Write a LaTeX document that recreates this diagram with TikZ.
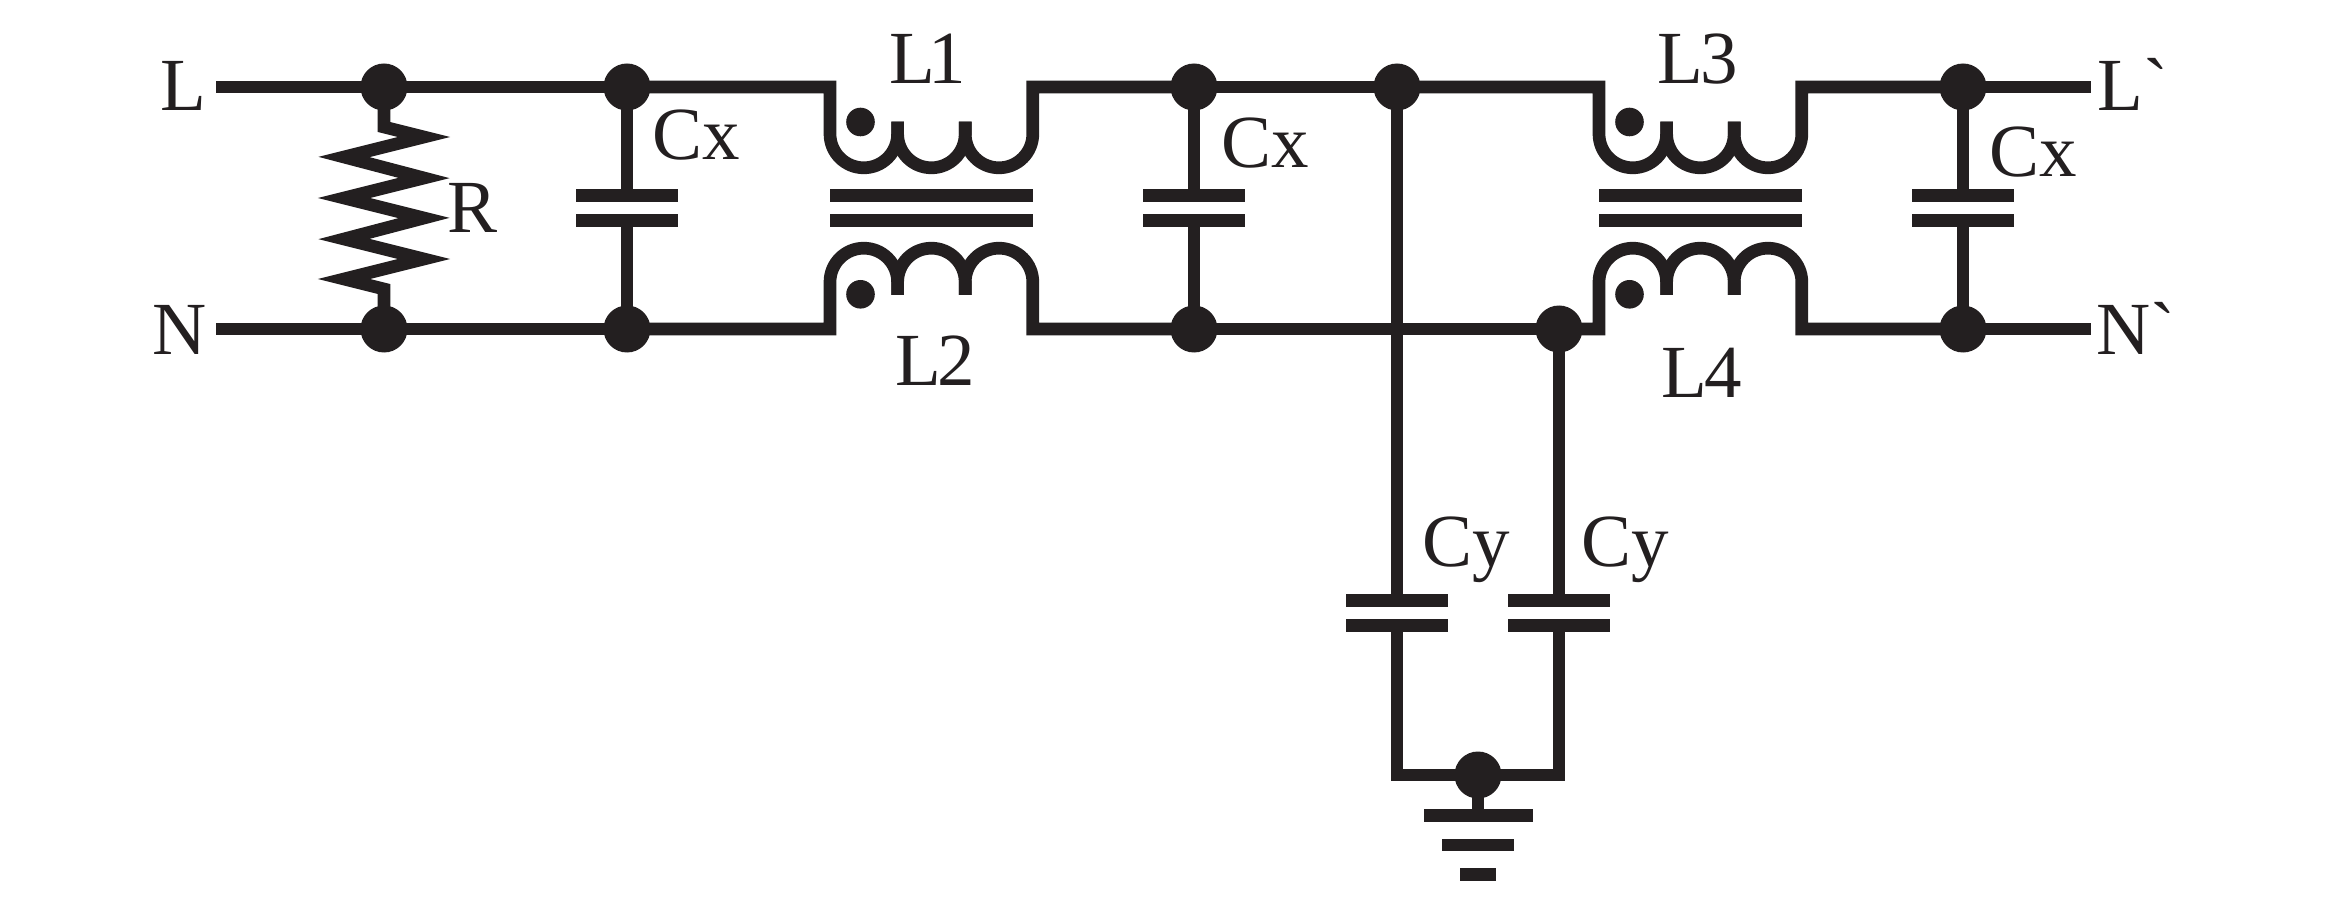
\documentclass[tikz,border=0pt]{standalone}
\usepackage{fontspec}
\newfontfamily\labelfont{Liberation Serif}
\definecolor{inkblack}{HTML}{231F20}
\tikzset{
  wire/.style={draw=inkblack, line width=12.7pt},
  junction/.style={circle, fill=inkblack, inner sep=0pt, outer sep=0pt, minimum size=47pt},
  plate/.style={rectangle, fill=inkblack, inner sep=0pt, outer sep=0pt, minimum width=102pt, minimum height=12.7pt},
  coredot/.style={circle, fill=inkblack, inner sep=0pt, outer sep=0pt, minimum size=28.6pt},
  tag/.style={text=inkblack, inner sep=0pt, anchor=base, font=\labelfont\fontsize{75}{80}\selectfont}
}
\begin{document}
\begin{tikzpicture}[x=1pt, y=-1pt]
  \useasboundingbox (0, 0) rectangle (2332, 917);
  % input and output ends
  \coordinate (Lin) at (216, 87);
  \coordinate (Nin) at (216, 329);
  \coordinate (Lout) at (2091, 87);
  \coordinate (Nout) at (2091, 329);
  % Cx branches
  \foreach \cn/\cx in {A/627, B/1194, C/1963} {
    \node [junction] (ct\cn) at (\cx, 87) {};
    \node [junction] (cb\cn) at (\cx, 329) {};
    \node [plate] (cu\cn) at (\cx, 195.5) {};
    \node [plate] (cl\cn) at (\cx, 220.5) {};
    \draw [wire] (ct\cn.center) -- (cu\cn.center);
    \draw [wire] (cl\cn.center) -- (cb\cn.center);
  }
  % rails
  \node [junction] (rt) at (384, 87) {};
  \node [junction] (rb) at (384, 329) {};
  \node [junction] (jT) at (1397, 87) {};
  \node [junction] (jB) at (1559, 329) {};
  \draw [wire] (Lin) -- (rt.center) -- (ctA.center);
  \draw [wire] (Nin) -- (rb.center) -- (cbA.center);
  \draw [wire] (ctB.center) -- (jT.center);
  \draw [wire] (cbB.center) -- (jB.center);
  \draw [wire] (ctC.center) -- (Lout);
  \draw [wire] (cbC.center) -- (Nout);
  % resistor
  \draw [wire] (rt.center) -- (384, 127) -- (424, 137) -- (344, 157) -- (424, 178)
    -- (344, 198) -- (424, 218) -- (344, 239) -- (424, 259) -- (344, 279)
    -- (384, 289) -- (rb.center);
  % coupled coils
  \foreach \n/\xo/\tl/\tr/\bl/\br in {a/830/ctA/ctB/cbA/cbB, b/1599/jT/ctC/jB/cbC} {
    \begin{scope}[xshift=\xo pt]
      \draw [wire] (\tl.center) -- (0, 87) -- (0, 134)
        arc [start angle=180, end angle=0, radius=33.8] -- ++(0, -12.4);
      \draw [wire] (67.6, 121.6) -- (67.6, 134)
        arc [start angle=180, end angle=0, radius=33.8] -- ++(0, -12.4);
      \draw [wire] (135.2, 121.6) -- (135.2, 134)
        arc [start angle=180, end angle=0, radius=33.8] -- (202.8, 87) -- (\tr.center);
      \draw [wire] (\bl.center) -- (0, 329) -- (0, 282)
        arc [start angle=180, end angle=360, radius=33.8] -- ++(0, 13);
      \draw [wire] (67.6, 295) -- (67.6, 282)
        arc [start angle=180, end angle=360, radius=33.8] -- ++(0, 13);
      \draw [wire] (135.2, 295) -- (135.2, 282)
        arc [start angle=180, end angle=360, radius=33.8] -- (202.8, 329) -- (\br.center);
      \node [plate, minimum width=203pt] (core1\n) at (101.4, 195.5) {};
      \node [plate, minimum width=203pt] (core2\n) at (101.4, 220.5) {};
      \node [coredot] (mark1\n) at (30.5, 122) {};
      \node [coredot] (mark2\n) at (30.5, 294.3) {};
    \end{scope}
  }
  % Cy branches and ground
  \node [junction] (gnd) at (1478, 775) {};
  \node [plate] (cyAu) at (1397, 600.3) {};
  \node [plate] (cyAl) at (1397, 625.7) {};
  \node [plate] (cyBu) at (1559, 600.3) {};
  \node [plate] (cyBl) at (1559, 625.7) {};
  \coordinate (cyAe) at (1397, 775);
  \coordinate (cyBe) at (1559, 775);
  \draw [wire] (jT.center) -- (cyAu.center);
  \draw [wire] (jB.center) -- (cyBu.center);
  \draw [wire] (cyAl.center) -- (cyAe) -- (gnd.center);
  \draw [wire] (cyBl.center) -- (cyBe) -- (gnd.center);
  \node [plate, minimum width=109pt] (gnd1) at (1478, 815.7) {};
  \node [plate, minimum width=72pt] (gnd2) at (1478, 845) {};
  \node [plate, minimum width=36pt] (gnd3) at (1478, 874.7) {};
  \draw [wire] (gnd.center) -- (gnd1.center);
  % labels
  \node [tag] (tagL) at (183, 111) {L};
  \node [tag] (tagN) at (180, 354) {N};
  \node [tag] (tagR) at (473, 233) {R};
  \node [tag] (tagCa) at (696.5, 160) {Cx};
  \node [tag] (tagCb) at (1265, 168) {Cx};
  \node [tag] (tagCc) at (2033, 177) {Cx};
  \node [tag] (tagLa) at (927.5, 84) {L\kern-7pt 1};
  \node [tag] (tagLb) at (935, 385) {L\kern-4pt 2};
  \node [tag] (tagLc) at (1698, 84) {L\kern-3pt 3};
  \node [tag] (tagLd) at (1702, 397) {L\kern-3pt 4};
  \node [tag] (tagCy) at (1466, 566) {Cy};
  \node [tag] (tagCz) at (1625.5, 566) {Cy};
  \node [tag] (tagLo) at (2133, 111) {L`};
  \node [tag] (tagNo) at (2136, 354) {N`};
\end{tikzpicture}
\end{document}
